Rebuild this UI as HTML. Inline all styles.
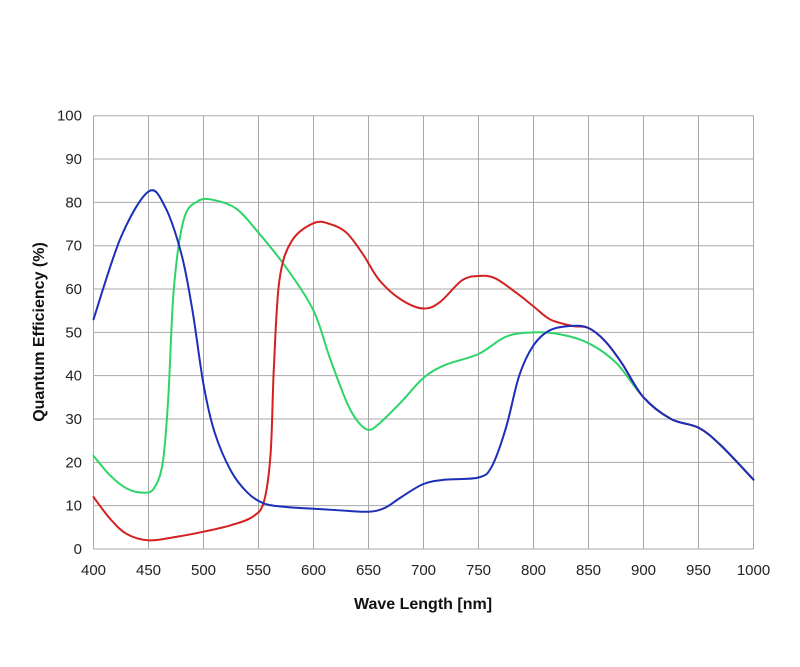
<!DOCTYPE html>
<html><head><meta charset="utf-8"><style>
html,body{margin:0;padding:0;background:#fff;}
svg{display:block;font-family:"Liberation Sans",sans-serif;}
</style></head><body>
<svg id="s" width="800" height="667" viewBox="0 0 800 667">
<rect width="800" height="667" fill="#fff"/>
<g id="grid" stroke="#a8a8a8" stroke-width="1"></g>
<g id="labels" font-size="15" fill="#222"></g>
<text x="423" y="609" text-anchor="middle" font-size="16" font-weight="bold" fill="#111">Wave Length [nm]</text>
<text transform="translate(44,332) rotate(-90)" text-anchor="middle" font-size="16" font-weight="bold" fill="#111">Quantum Efficiency (%)</text>
<g id="curves" fill="none" stroke-width="2" stroke-linejoin="round" stroke-linecap="round"></g>
</svg>
<script>
var ns="http://www.w3.org/2000/svg";
function X(n){return 93.5+(n-400)*1.1;}
function Y(v){return 549-v*4.333;}
var g=document.getElementById('grid'),L=document.getElementById('labels');
function el(p,t,a){var e=document.createElementNS(ns,t);for(var k in a)e.setAttribute(k,a[k]);p.appendChild(e);return e;}
for(var n=400;n<=1000;n+=50){el(g,'line',{x1:X(n),x2:X(n),y1:Y(100),y2:Y(0)});var t=el(L,'text',{x:X(n),y:575,'text-anchor':'middle'});t.textContent=n;}
for(var v=0;v<=100;v+=10){el(g,'line',{x1:X(400),x2:X(1000),y1:Y(v),y2:Y(v)});var t=el(L,'text',{x:82,y:Y(v)+5,'text-anchor':'end'});t.textContent=v;}
var tail=[[850,51],[865,48],[880,43],[900,35],[925,30],[950,28],[970,24],[1000,16]];
var blue=[[400,53],[425,72],[450,82.5],[465,79],[480,68],[490,55],[500,38],[510,27],[525,18],[540,13],[555,10.5],[575,9.7],[600,9.3],[625,8.9],[650,8.6],[665,9.5],[680,12],[700,15],[720,16],[750,16.5],[762,19],[775,28],[787,40],[800,47],[815,50.5],[835,51.5]].concat(tail);
var green=[[400,21.5],[415,17],[430,14],[445,13],[455,14],[463,20],[468,35],[473,60],[482,76],[495,80.3],[510,80.5],[530,78.5],[550,73],[575,65],[600,55],[615,44],[630,34],[640,29.5],[650,27.5],[660,29],[680,34],[700,39.5],[720,42.5],[750,45],[775,49],[800,50],[825,49.5],[850,47.5],[875,43],[900,35],[925,30],[950,28],[970,24],[1000,16]];
var red=[[400,12],[415,7],[430,3.5],[450,2],[475,2.8],[500,4],[525,5.5],[545,7.5],[555,11],[561,22],[564,42],[569,62],[580,71],[600,75.2],[615,75],[630,73],[645,68],[660,62],[680,57.5],[700,55.5],[715,57],[735,62],[750,63],[765,62.5],[785,59],[800,56],[815,53],[835,51.5]].concat(tail);
function path(pts){var p=pts.map(function(a){return [X(a[0]),Y(a[1])]});var d='M'+p[0][0]+','+p[0][1];
for(var i=0;i<p.length-1;i++){var p0=p[i-1]||p[i],p1=p[i],p2=p[i+1],p3=p[i+2]||p2;
d+=' C'+(p1[0]+(p2[0]-p0[0])/6)+','+(p1[1]+(p2[1]-p0[1])/6)+' '+(p2[0]-(p3[0]-p1[0])/6)+','+(p2[1]-(p3[1]-p1[1])/6)+' '+p2[0]+','+p2[1];}return d;}
var C=document.getElementById('curves');
el(C,'path',{d:path(green),stroke:'#2ed46a'});
el(C,'path',{d:path(red),stroke:'#d42020'});
el(C,'path',{d:path(blue),stroke:'#1c2fb8'});
</script>
</body></html>
